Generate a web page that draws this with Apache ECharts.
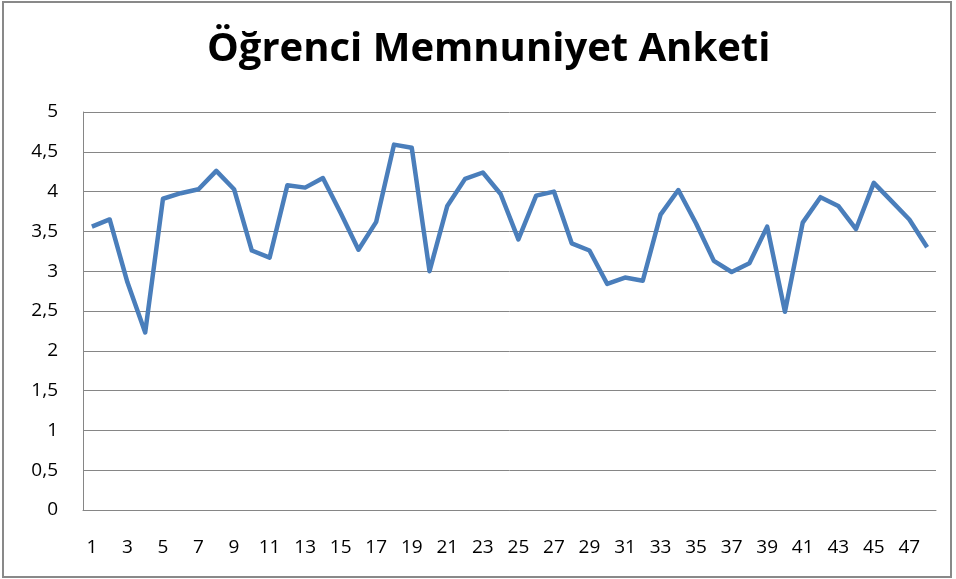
<!DOCTYPE html>
<html>
<head>
<meta charset="utf-8">
<script src="https://cdn.jsdelivr.net/npm/echarts@6/dist/echarts.min.js"></script>
<style>
html,body{margin:0;padding:0;background:#fff;}
#c{width:956px;height:579px;}
</style>
</head>
<body>
<div id="c"></div>
<script>
const titleText = 'Öğrenci Memnuniyet Anketi';
const categories = [];
for (let i = 1; i <= 48; i++) categories.push(String(i));
const values = [3.56, 3.65, 2.86, 2.23, 3.91, 3.98, 4.03, 4.26, 4.03, 3.26,
                3.17, 4.08, 4.05, 4.17, 3.73, 3.27, 3.62, 4.59, 4.55, 3.00,
                3.82, 4.16, 4.24, 3.97, 3.40, 3.95, 4.00, 3.35, 3.26, 2.84,
                2.92, 2.88, 3.71, 4.02, 3.60, 3.13, 2.99, 3.10, 3.56, 2.49,
                3.61, 3.93, 3.82, 3.53, 4.11, 3.88, 3.65, 3.30];

const chart = echarts.init(document.getElementById('c'), null, {renderer: 'canvas'});
chart.setOption({
  animation: false,
  backgroundColor: '#fff',
  title: {
    text: titleText,
    left: 202,
    top: 25,
    textStyle: {fontFamily: 'Open Sans', fontWeight: 'bold', fontSize: 40, color: '#000'}
  },
  graphic: [{
    type: 'rect',
    shape: {x: 3, y: 2, width: 948, height: 575},
    style: {fill: 'none', stroke: '#898989', lineWidth: 2},
    silent: true
  }],
  grid: {left: 83, right: 20, top: 112, bottom: 69, containLabel: false},
  xAxis: {
    type: 'category',
    data: categories,
    boundaryGap: true,
    axisLine: {show: true, lineStyle: {color: '#868686', width: 1}},
    axisTick: {show: false},
    axisLabel: {interval: 1, margin: 28, fontFamily: 'Open Sans', fontSize: 19, color: '#000'},
    splitLine: {show: false}
  },
  yAxis: {
    type: 'value',
    min: 0, max: 5, interval: 0.5,
    axisLine: {show: true, lineStyle: {color: '#868686', width: 1}},
    axisTick: {show: false},
    axisLabel: {
      margin: 25, fontFamily: 'Open Sans', fontSize: 19, color: '#000',
      formatter: v => String(v).replace('.', ',')
    },
    splitLine: {show: true, lineStyle: {color: '#868686', width: 1}}
  },
  series: [{
    type: 'line',
    data: values,
    symbol: 'none',
    lineStyle: {color: '#4A7EBB', width: 4.5, join: 'round'},
    itemStyle: {color: '#4A7EBB'}
  }]
});
</script>
</body>
</html>
